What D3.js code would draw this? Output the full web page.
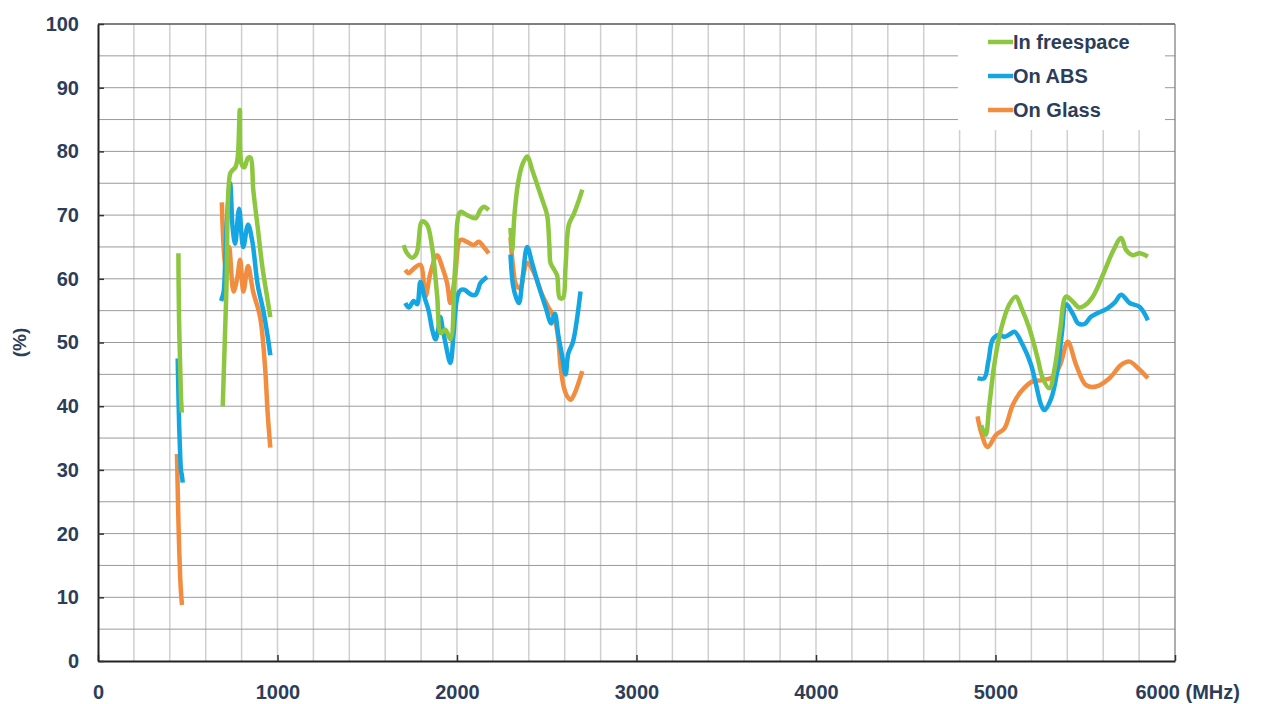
<!DOCTYPE html>
<html>
<head>
<meta charset="utf-8">
<script src="https://cdn.jsdelivr.net/npm/d3@7"></script>
<style>
  body { margin: 0; background: #fff; }
  text { font-family: "Liberation Sans", Arial, sans-serif; font-weight: bold; fill: #2c3d5a; }
</style>
</head>
<body>
<div id="chart"></div>
<script>
// data: [MHz, %], null = gap between bands
var freeSpace = [
  [448, 64], [449, 59.5], [452, 53], [458, 46], [463, 41], [467, 39],
  null,
  [695, 40], [715, 58], [736, 76.5], [748, 77], [765, 77.5], [778, 79], [790, 86.5], [800, 78], [815, 77.5],
  [836, 79], [850, 79], [865, 74], [890, 68], [915, 62], [940, 57.5], [960, 54],
  null,
  [1703, 65.3], [1722, 64], [1750, 63.3], [1775, 64], [1805, 69], [1833, 68.5], [1861, 65], [1889, 57.5],
  [1910, 51.5], [1935, 52], [1963, 50.5], [1990, 62], [2019, 70.5], [2056, 70], [2103, 69.5], [2130, 70.8],
  [2149, 71.3], [2177, 70.8],
  null,
  [2298, 68], [2307, 64.5], [2320, 70], [2340, 75], [2365, 78], [2391, 79.2], [2420, 77], [2456, 74],
  [2480, 72], [2502, 70], [2515, 65], [2521, 62.5], [2540, 61.5], [2558, 60.5], [2572, 57], [2590, 57],
  [2605, 62], [2623, 68.5], [2651, 70.2], [2675, 72], [2698, 74],
  null,
  [4920, 37], [4945, 35.5], [4965, 40], [4993, 46.5], [5030, 52], [5077, 56], [5114, 57.2], [5142, 55.6],
  [5189, 52.2], [5235, 47.5], [5263, 44.4], [5300, 42.8], [5330, 46], [5360, 52], [5393, 57.2], [5431, 56.4],
  [5465, 55.5], [5496, 55.8], [5542, 57.2], [5598, 60.6], [5654, 64.3], [5700, 66.4], [5728, 64.5],
  [5765, 63.7], [5802, 64], [5849, 63.5]
]
var onABS = [
  [444, 47.5], [448, 42], [452, 37], [457, 33], [462, 30], [468, 29], [472, 28],
  null,
  [686, 56.5], [700, 58], [708, 62], [720, 70], [736, 75], [750, 68], [764, 65.5], [786, 71], [809, 65],
  [836, 68.5], [859, 66], [890, 59], [921, 55], [945, 51], [960, 48],
  null,
  [1712, 56.2], [1731, 55.5], [1759, 56.5], [1778, 56], [1796, 59.5], [1820, 57], [1842, 55], [1862, 52],
  [1880, 50.5], [1895, 52], [1907, 54], [1921, 52], [1935, 50], [1963, 46.8], [1980, 51], [1991, 55],
  [2005, 57.5], [2019, 58.2], [2040, 58.3], [2056, 58], [2080, 57.5], [2103, 57.5], [2120, 58.5],
  [2130, 59.3], [2168, 60.3],
  null,
  [2298, 63.8], [2312, 59], [2330, 57], [2345, 56.2], [2365, 60], [2391, 65], [2419, 62.4], [2456, 58.8],
  [2493, 55.6], [2525, 53], [2545, 54.5], [2565, 51], [2585, 48], [2605, 45], [2620, 48.3], [2645, 50],
  [2665, 53], [2688, 58],
  null,
  [4900, 44.4], [4937, 44.4], [4960, 47], [4985, 50.5], [5019, 51.2], [5049, 50.9], [5080, 51.3],
  [5105, 51.7], [5152, 49.6], [5198, 46.5], [5225, 43.5], [5254, 40.2], [5272, 39.4], [5310, 41.2],
  [5347, 46], [5370, 51.5], [5393, 56], [5431, 54.5], [5460, 53], [5496, 52.9], [5530, 54], [5561, 54.5],
  [5626, 55.4], [5665, 56.3], [5700, 57.5], [5747, 56.2], [5802, 55.6], [5849, 53.5]
]
var onGlass = [
  [440, 32.5], [444, 27], [448, 22], [453, 17], [458, 13], [463, 10.5], [468, 8.8],
  null,
  [690, 72], [710, 61], [730, 65], [755, 58], [775, 60], [792, 63], [810, 58], [836, 62], [864, 58],
  [903, 54], [931, 46], [945, 39], [960, 33.5],
  null,
  [1712, 61.4], [1731, 60.9], [1759, 61.6], [1796, 62.2], [1824, 57.2], [1852, 60.9], [1889, 63.7],
  [1917, 61.9], [1945, 59.3], [1963, 56.2], [1991, 60.9], [2019, 66.1], [2056, 65.8], [2093, 65.3],
  [2121, 65.8], [2149, 65], [2177, 64],
  null,
  [2298, 66.5], [2312, 62], [2330, 59], [2354, 58.5], [2372, 61], [2391, 62.5], [2428, 61], [2474, 57.5],
  [2510, 55.5], [2540, 54], [2560, 51.5], [2578, 46], [2595, 43], [2615, 41.5], [2633, 41], [2655, 42],
  [2675, 43.5], [2698, 45.5],
  null,
  [4900, 38.4], [4919, 36], [4956, 33.6], [5003, 35.5], [5049, 36.5], [5096, 40.2], [5142, 42.3],
  [5207, 43.9], [5263, 44.1], [5319, 44.6], [5360, 46.5], [5403, 50.1], [5449, 46.5], [5505, 43.3],
  [5561, 43.1], [5635, 44.4], [5700, 46.5], [5747, 47], [5793, 46], [5849, 44.4]
]
var seriesNames = ['In freespace', 'On ABS', 'On Glass']
var seriesColors = ['#8dc63f', '#14a6e2', '#f28d3f']
var xTicks = [0, 1000, 2000, 3000, 4000, 5000, 6000]
var yTicks = [0, 10, 20, 30, 40, 50, 60, 70, 80, 90, 100]

var width = 1262, height = 704
var margin = { top: 24, right: 87, bottom: 43, left: 98 }

var svg = d3.select('#chart').append('svg')
  .attr('width', width)
  .attr('height', height)

var x = d3.scaleLinear().domain([0, 6000]).range([margin.left, width - margin.right])
var y = d3.scaleLinear().domain([0, 100]).range([height - margin.bottom, margin.top])

// grid
svg.append('g').selectAll('line')
  .data(d3.range(200, 6000, 200))
  .enter().append('line')
  .attr('x1', function (d) { return x(d) }).attr('x2', function (d) { return x(d) })
  .attr('y1', y(0)).attr('y2', y(100))
  .attr('stroke', '#cfcfcf').attr('stroke-width', 1.5)
svg.append('g').selectAll('line')
  .data(d3.range(5, 100, 5))
  .enter().append('line')
  .attr('x1', x(0)).attr('x2', x(6000))
  .attr('y1', function (d) { return y(d) }).attr('y2', function (d) { return y(d) })
  .attr('stroke', '#9a9a9a').attr('stroke-width', 1)

// frame top / right
svg.append('line').attr('x1', x(0)).attr('x2', x(6000)).attr('y1', y(100)).attr('y2', y(100))
  .attr('stroke', '#555').attr('stroke-width', 1.5)
svg.append('line').attr('x1', x(6000)).attr('x2', x(6000)).attr('y1', y(100)).attr('y2', y(0))
  .attr('stroke', '#777').attr('stroke-width', 1.2)

// legend background (covers grid)
svg.append('rect').attr('x', 958).attr('y', y(100) + 1).attr('width', 207).attr('height', 105)
  .attr('fill', '#fff')

// axes
var xAxis = svg.append('g')
  .attr('transform', 'translate(0,' + y(0) + ')')
  .call(d3.axisBottom(x).tickValues(xTicks).tickFormat(d3.format('d'))
    .tickSizeInner(-6).tickSizeOuter(0).tickPadding(24))
var yAxis = svg.append('g')
  .attr('transform', 'translate(' + x(0) + ',0)')
  .call(d3.axisLeft(y).tickValues(yTicks).tickSizeInner(-6).tickSizeOuter(0).tickPadding(19))
xAxis.select('.domain').attr('stroke', '#222').attr('stroke-width', 2)
yAxis.select('.domain').attr('stroke', '#222').attr('stroke-width', 2)
xAxis.selectAll('.tick line').attr('stroke', '#333').attr('stroke-width', 1.5)
yAxis.selectAll('.tick line').attr('stroke', '#333').attr('stroke-width', 1.5)
xAxis.selectAll('text').attr('font-size', 20).attr('fill', '#2c3d5a')
  .attr('font-family', '"Liberation Sans", Arial, sans-serif').attr('font-weight', 'bold')
yAxis.selectAll('text').attr('font-size', 20).attr('fill', '#2c3d5a')
  .attr('font-family', '"Liberation Sans", Arial, sans-serif').attr('font-weight', 'bold')
xAxis.selectAll('.tick').filter(function (d) { return d == 6000 }).select('text')
  .attr('text-anchor', 'start').attr('dx', -40).text('6000 (MHz)')

svg.append('text')
  .attr('transform', 'translate(26,' + y(50) + ') rotate(-90)')
  .attr('text-anchor', 'middle')
  .attr('font-size', 19)
  .text('(%)')

// lines
var line = d3.line()
  .defined(function (d) { return d !== null })
  .x(function (d) { return x(d[0]) })
  .y(function (d) { return y(d[1]) })
  .curve(d3.curveCatmullRom.alpha(0.5))

var allSeries = [freeSpace, onABS, onGlass]
for (var i = allSeries.length - 1; i >= 0; i--) {
  svg.append('path')
    .attr('d', line(allSeries[i]))
    .attr('fill', 'none')
    .attr('stroke', seriesColors[i])
    .attr('stroke-width', 4.5)
    .attr('stroke-linejoin', 'round')
}

// legend
var lg = svg.append('g').selectAll('g')
  .data(seriesNames)
  .enter().append('g')
  .attr('transform', function (d, i) { return 'translate(988,' + (42 + i * 34) + ')' })
lg.append('line').attr('x1', 0).attr('x2', 25).attr('y1', 0).attr('y2', 0)
  .attr('stroke', function (d, i) { return seriesColors[i] }).attr('stroke-width', 4.5)
lg.append('text').attr('x', 25).attr('y', 7).attr('font-size', 20)
  .text(function (d) { return d })
</script>
</body>
</html>
